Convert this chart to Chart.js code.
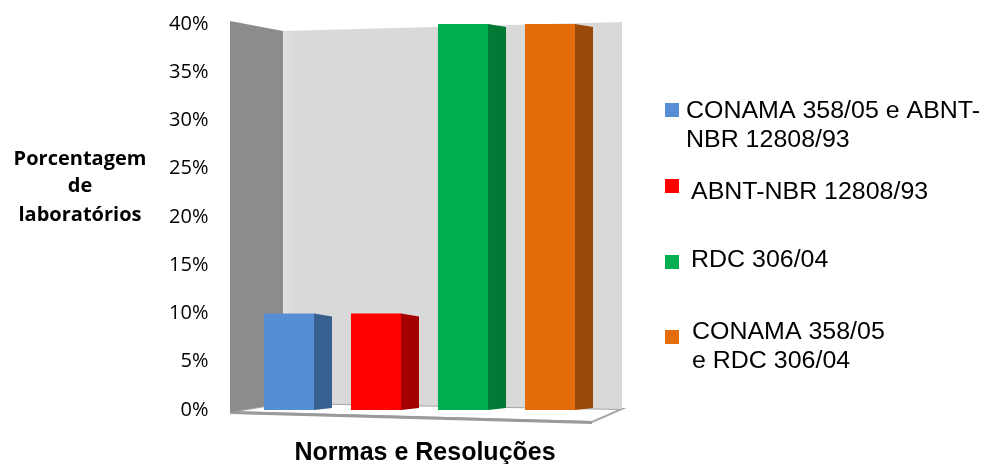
<!DOCTYPE html>
<html>
<head>
<meta charset="utf-8">
<script src="https://cdn.jsdelivr.net/npm/chart.js@4.4.1/dist/chart.umd.min.js"></script>
<style>
  html, body { margin: 0; padding: 0; background: #ffffff; }
  #wrap { width: 983px; height: 464px; position: relative; }
</style>
</head>
<body>
<div id="wrap"><canvas id="chart" width="983" height="464"></canvas></div>
<script>
// Categories (one bar each), shown in the legend on the right
const categories = [
  ['CONAMA 358/05 e ABNT-', 'NBR 12808/93'],
  ['ABNT-NBR 12808/93'],
  ['RDC 306/04'],
  ['CONAMA 358/05', 'e RDC 306/04']
];
// Share of laboratories following each standard (%)
const percentages = [10, 10, 40, 40];
// Y axis tick labels
const yTickLabels = ['0%', '5%', '10%', '15%', '20%', '25%', '30%', '35%', '40%'];
const yAxisTitle = ['Porcentagem', 'de', 'laboratórios'];
const xAxisTitle = 'Normas e Resoluções';

const frontColors = ['#558ED5', '#FF0000', '#00B050', '#E46C0A'];
const sideColors  = ['#375F90', '#A30000', '#007A35', '#984807'];

// text drawn with a slight horizontal stretch
function wideText(ctx, text, x, y, sx) {
  ctx.save();
  ctx.translate(x, y);
  ctx.scale(sx, 1);
  ctx.fillText(text, 0, 0);
  ctx.restore();
}

// Back wall, side wall and floor of the 3D box, drawn behind the bars
const boxPlugin = {
  id: 'box3d',
  beforeDatasetsDraw(chart) {
    const ctx = chart.ctx, a = chart.chartArea;
    const L = a.left - 15.5, M = a.left + 37.5, R = a.right + 28.5;
    ctx.save();
    // floor
    ctx.beginPath();
    ctx.moveTo(L, a.bottom + 2);
    ctx.lineTo(M, a.bottom - 7);
    ctx.lineTo(R, a.bottom - 1);
    ctx.lineTo(a.right - 1.5, a.bottom + 12);
    ctx.closePath();
    ctx.fillStyle = '#ffffff';
    ctx.fill();
    ctx.lineWidth = 2;
    ctx.strokeStyle = '#a6a6a6';
    ctx.stroke();
    // thicker front edge of the floor
    ctx.beginPath();
    ctx.moveTo(L, a.bottom + 2.5);
    ctx.lineTo(a.right - 1.5, a.bottom + 12.5);
    ctx.lineWidth = 3;
    ctx.strokeStyle = '#9a9a9a';
    ctx.stroke();
    // back wall
    const g = ctx.createLinearGradient(M, 0, R, 0);
    g.addColorStop(0, '#e2e2e2');
    g.addColorStop(0.03, '#d9d9d9');
    g.addColorStop(1, '#d9d9d9');
    ctx.beginPath();
    ctx.moveTo(M, a.top + 7);
    ctx.lineTo(R, a.top - 2);
    ctx.lineTo(R, a.bottom - 1);
    ctx.lineTo(M, a.bottom - 7);
    ctx.closePath();
    ctx.fillStyle = g;
    ctx.fill();
    // side wall
    ctx.beginPath();
    ctx.moveTo(L, a.top - 3);
    ctx.lineTo(M, a.top + 7);
    ctx.lineTo(M, a.bottom - 7);
    ctx.lineTo(L, a.bottom + 2);
    ctx.closePath();
    ctx.fillStyle = '#8c8c8c';
    ctx.fill();
    ctx.restore();
  },
  afterDatasetsDraw(chart) {
    // right-hand faces of the bars
    const ctx = chart.ctx;
    const meta = chart.getDatasetMeta(0);
    const depth = 18;
    ctx.save();
    meta.data.forEach((bar, i) => {
      const p = bar.getProps(['x', 'y', 'base', 'width'], true);
      const r = p.x + p.width / 2;
      ctx.beginPath();
      ctx.moveTo(r, p.y);
      ctx.lineTo(r + depth, p.y + 3);
      ctx.lineTo(r + depth, p.base - 2);
      ctx.lineTo(r, p.base);
      ctx.closePath();
      ctx.fillStyle = sideColors[i];
      ctx.fill();
    });
    ctx.restore();
  },
  afterDraw(chart) {
    const ctx = chart.ctx;
    ctx.save();
    ctx.fillStyle = '#000000';
    ctx.textBaseline = 'alphabetic';
    // y axis title (horizontal, three lines)
    ctx.font = 'bold 20px "Open Sans"';
    ctx.textAlign = 'center';
    const yBase = [165, 192, 221];
    yAxisTitle.forEach((t, i) => ctx.fillText(t, 80, yBase[i]));
    // x axis title
    ctx.font = 'bold 25px "Liberation Sans", Arial';
    ctx.fillText(xAxisTitle, 425, 460);
    // legend
    ctx.textAlign = 'left';
    ctx.font = '23px "Liberation Sans", Arial';
    const boxTop = [103, 179, 255, 330];
    const textX = [686, 691, 691, 692];
    const firstBase = [118, 199, 267, 339];
    categories.forEach((lines, i) => {
      ctx.fillStyle = frontColors[i];
      ctx.fillRect(665, boxTop[i], 14, 14);
      ctx.fillStyle = '#000000';
      lines.forEach((t, j) => wideText(ctx, t, textX[i], firstBase[i] + j * 28.5, 1.085));
    });
    ctx.restore();
  }
};

new Chart(document.getElementById('chart'), {
  type: 'bar',
  data: {
    labels: categories.map(c => c.join(' ')),
    datasets: [{
      data: percentages,
      backgroundColor: frontColors,
      borderWidth: 0,
      barPercentage: 0.575,
      categoryPercentage: 1.0
    }]
  },
  options: {
    responsive: false,
    animation: false,
    layout: { padding: { left: 160, right: 389.5, top: 24, bottom: 54 } },
    plugins: { legend: { display: false }, tooltip: { enabled: false } },
    scales: {
      x: { display: false },
      y: {
        min: 0, max: 40,
        afterFit(scale) {
          scale.width = 85.5;
          scale.paddingTop = 0;
          scale.paddingBottom = 0;
        },
        grid: { display: false, drawTicks: false },
        border: { display: false },
        ticks: {
          stepSize: 5,
          padding: 37,
          color: '#000000',
          font: { family: '"Open Sans"', size: 20 },
          callback: (v, i) => yTickLabels[i]
        }
      }
    }
  },
  plugins: [boxPlugin]
});
</script>
</body>
</html>
